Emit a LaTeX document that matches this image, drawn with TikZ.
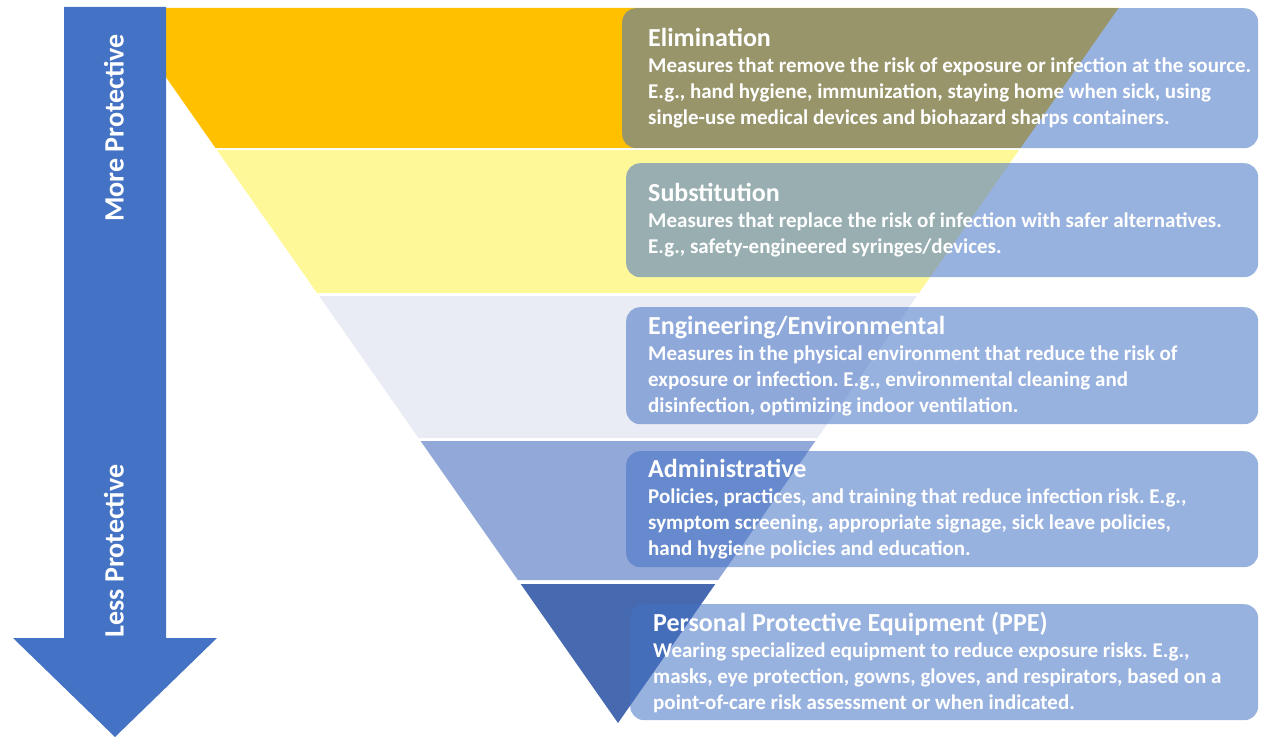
\documentclass[tikz,border=0pt]{standalone}
\usepackage{fontspec}
\setmainfont{Carlito}
\usetikzlibrary{positioning}
\frenchspacing

\definecolor{arrowblue}{HTML}{4472C4}
\definecolor{elimc}{HTML}{FFC000}
\definecolor{substc}{HTML}{FFF899}
\definecolor{engc}{HTML}{E9EBF5}
\definecolor{adminc}{HTML}{91A8D8}
\definecolor{ppec}{HTML}{4669AF}

\newcommand{\titlef}{\fontsize{26}{26}\selectfont}

\begin{document}
\begin{tikzpicture}[x=1pt,y=-1pt,
	hbox/.style={rounded corners=14pt,fill=arrowblue,fill opacity=0.55,anchor=north west,inner sep=0pt},
	htext/.style={anchor=west,align=left,text=white,inner sep=0pt,font=\fontsize{21}{26}\selectfont\bfseries},
	sidelabel/.style={rotate=90,text=white,font=\fontsize{28}{28}\selectfont\bfseries}]

	\useasboundingbox (0,0) rectangle (1263,738);

	% the layers of the inverted triangle
	\foreach \ya/\yb/\col in {8/148/elimc, 150/293/substc, 296/438/engc, 441/580/adminc, 584/723/ppec}
		\fill [\col] ({618-0.7*(723-\ya)},\ya) -- ({618+0.7*(723-\ya)},\ya) -- ({618+0.7*(723-\yb)},\yb) -- ({618-0.7*(723-\yb)},\yb) -- cycle;

	% big arrow on the left
	\fill [arrowblue] (64,7) -- (166,7) -- (166,638) -- (217,638) -- (115,737) -- (13,638) -- (64,638) -- cycle;
	\node [sidelabel] (more) at (114,128)	{More Protective};
	\node [sidelabel] (less) at (114,551)	{Less Protective};

	% text boxes
	\node [hbox,minimum width=636pt,minimum height=140pt] at (622,8)	(elim)	{};
	\node [hbox,minimum width=632pt,minimum height=114pt] at (626,163)	(subst)	{};
	\node [hbox,minimum width=632pt,minimum height=117pt] at (626,307)	(eng)	{};
	\node [hbox,minimum width=632pt,minimum height=116pt] at (626,451)	(admin)	{};
	\node [hbox,minimum width=628pt,minimum height=116pt] at (630,604)	(ppe)	{};

	\node [htext] at ([xshift=26pt]elim.west)	(elimtxt)	{{\titlef Elimination}\\
		Measures that remove the risk of exposure or infection at the source.\\
		E.g., hand hygiene, immunization, staying home when sick, using\\
		single-use medical devices and biohazard sharps containers.};
	\node [htext] at ([xshift=22pt]subst.west)	(substtxt)	{{\titlef Substitution}\\
		Measures that replace the risk of infection with safer alternatives.\\
		E.g., safety-engineered syringes/devices.};
	\node [htext] at ([xshift=22pt]eng.west)	(engtxt)	{{\titlef Engineering/Environmental}\\
		Measures in the physical environment that reduce the risk of\\
		exposure or infection. E.g., environmental cleaning and\\
		disinfection, optimizing indoor ventilation.};
	\node [htext] at ([xshift=22pt]admin.west)	(admintxt)	{{\titlef Administrative}\\
		Policies, practices, and training that reduce infection risk. E.g.,\\
		symptom screening, appropriate signage, sick leave policies,\\
		hand hygiene policies and education.};
	\node [htext] at ([xshift=23pt]ppe.west)	(ppetxt)	{{\titlef Personal Protective Equipment (PPE)}\\
		Wearing specialized equipment to reduce exposure risks. E.g.,\\
		masks, eye protection, gowns, gloves, and respirators, based on a\\
		point-of-care risk assessment or when indicated.};

\end{tikzpicture}
\end{document}
